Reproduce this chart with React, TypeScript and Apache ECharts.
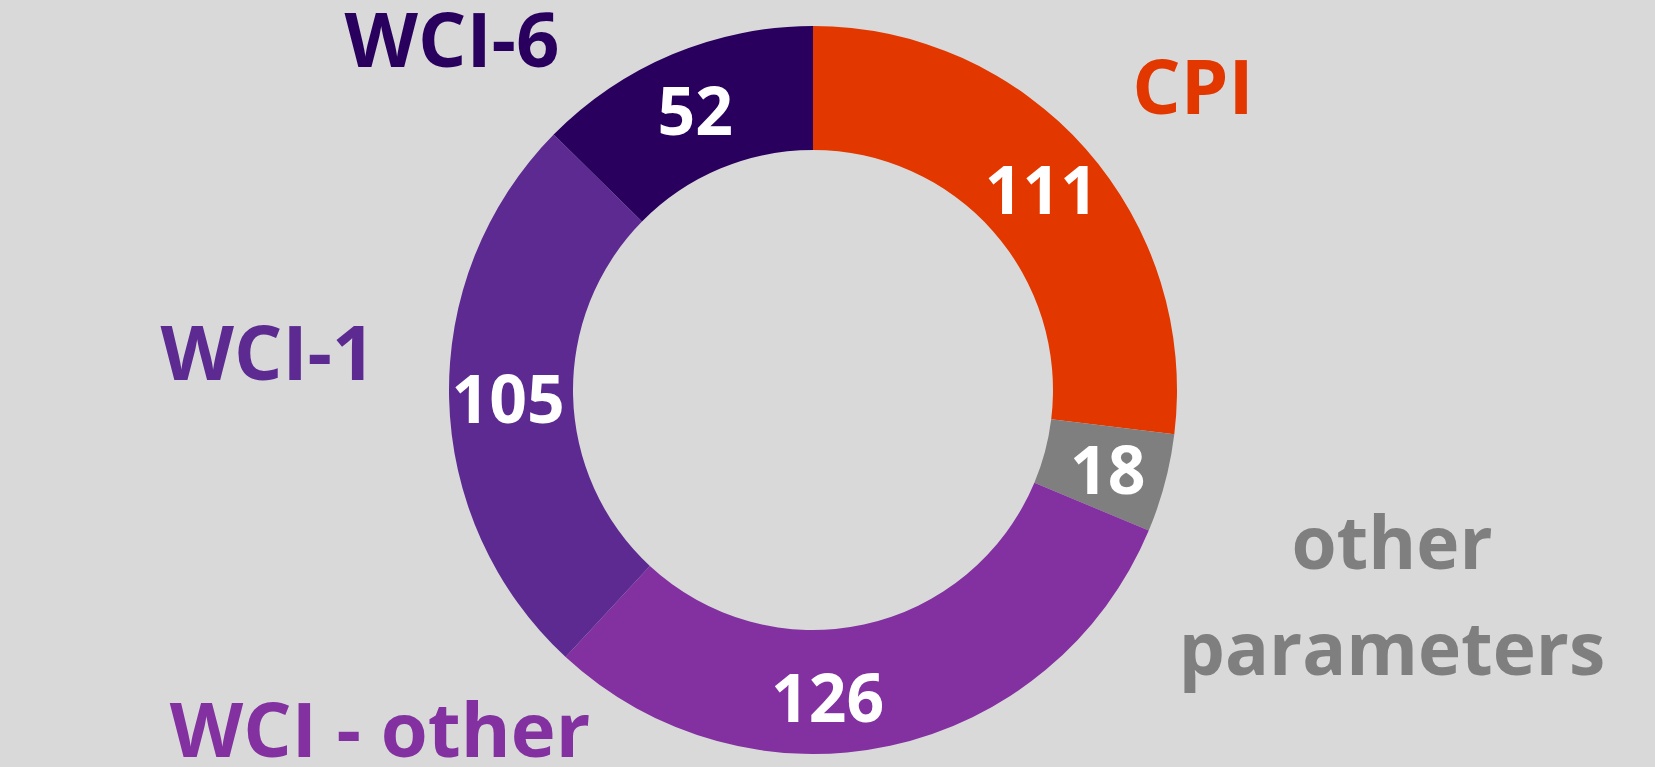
import React, { useEffect, useRef } from "react";
import * as echarts from "echarts";

const categories = ["CPI", "other parameters", "WCI - other", "WCI-1", "WCI-6"];
const values = [111, 18, 126, 105, 52];
const colors = ["#e33700", "#7f7f7f", "#8330a0", "#5c2a91", "#29005e"];
const outerLabels = ["CPI", "other\nparameters", "WCI - other", "WCI-1", "WCI-6"];

export default function App() {
  const ref = useRef<HTMLDivElement>(null);
  useEffect(() => {
    document.body.style.margin = "0";
    const chart = echarts.init(ref.current!, null, { renderer: "svg" });
    const labelPos: [number, number][] = [
      [1193, 84],
      [1392, 593],
      [380, 727],
      [268, 350],
      [452, 37],
    ];
    const sizes = [76, 73, 76, 76, 76];
    chart.setOption({
      animation: false,
      backgroundColor: "#d9d9d9",
      series: [
        {
          type: "pie",
          center: [813, 390],
          radius: [240, 364],
          startAngle: 90,
          clockwise: true,
          avoidLabelOverlap: false,
          itemStyle: { borderWidth: 0 },
          label: {
            show: true,
            position: "inside",
            color: "#ffffff",
            fontFamily: "Open Sans",
            fontWeight: "bold",
            fontSize: 66,
            formatter: "{c}",
          },
          labelLine: { show: false },
          emphasis: { disabled: true },
          data: categories.map((name, i) => ({
            name,
            value: values[i],
            itemStyle: { color: colors[i] },
            label: name === "WCI - other" ? { offset: [-50, 8] } : undefined,
          })),
        },
      ],
      graphic: outerLabels.map((t, i) => ({
        type: "text",
        x: labelPos[i][0],
        y: labelPos[i][1],
        style: {
          text: t,
          fill: colors[i],
          font: `bold ${sizes[i]}px 'Open Sans'`,
          align: "center",
          verticalAlign: "middle",
          lineHeight: t.includes("\n") ? 106 : 72,
        },
      })),
    });
    return () => chart.dispose();
  }, []);
  return <div ref={ref} style={{ width: 1655, height: 767 }} />;
}
